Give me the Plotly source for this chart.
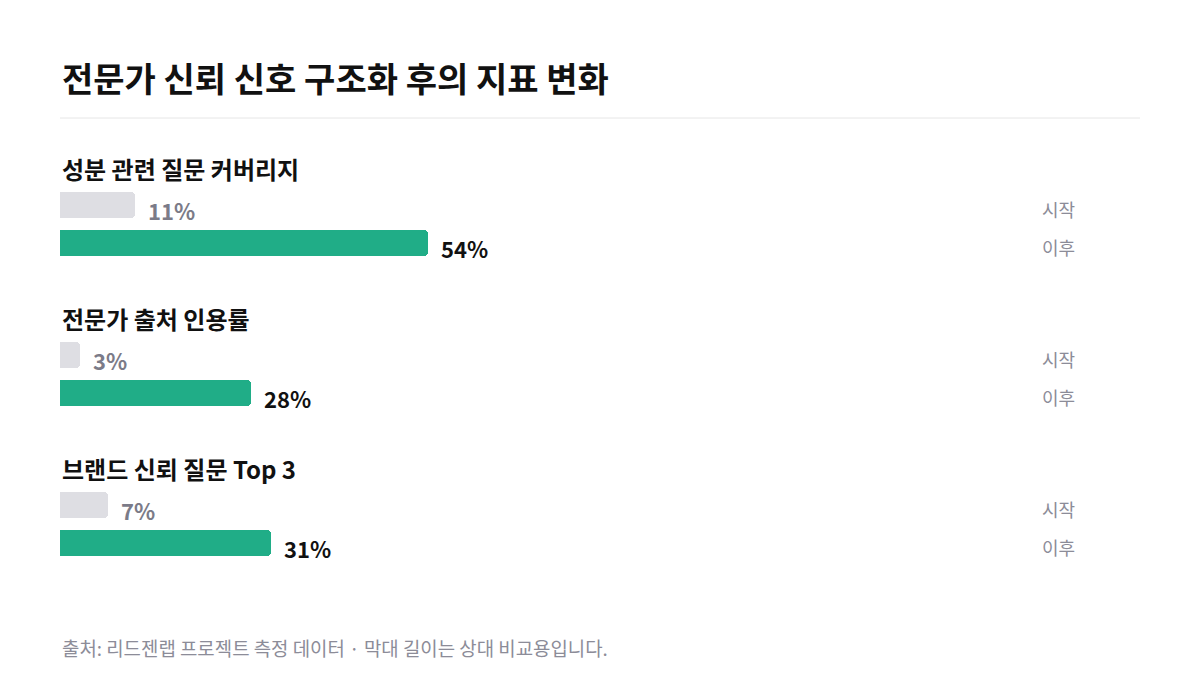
import plotly.graph_objects as go

# ---- data ----
metrics = ["성분 관련 질문 커버리지", "전문가 출처 인용률", "브랜드 신뢰 질문 Top 3"]
before_vals = [11, 3, 7]
after_vals = [54, 28, 31]
phase_labels = ["시작", "이후"]
title_text = "전문가 신뢰 신호 구조화 후의 지표 변화"
footer_text = "출처: 리드젠랩 프로젝트 측정 데이터 · 막대 길이는 상대 비교용입니다."

# ---- style / layout ----
W, H = 1200, 690
OFF = 8  # page body margin compensation
FONT = "Noto Sans CJK KR"
GREEN = "#20AD87"
GREY_BAR = "#DEDEE3"
GREY_TXT = "#7B7B88"
DARK = "#111111"
LEFT_PX = 60
FULL_PX = 741  # pixel where 100% ends
GROUP_TOP = 170      # y of first group (screen pixel units on y axis)
GROUP_STEP = 150
BAR_H = 26


def px(p):
    return (p - OFF) / W


x_dom = [px(LEFT_PX), px(FULL_PX)]

fig = go.Figure()

start_y = [GROUP_TOP + 35 + i * GROUP_STEP for i in range(len(metrics))]
after_y = [GROUP_TOP + 73 + i * GROUP_STEP for i in range(len(metrics))]

fig.add_trace(go.Bar(
    x=before_vals, y=start_y, orientation="h", width=BAR_H,
    marker=dict(color=GREY_BAR, cornerradius=4, line=dict(width=0)),
    hoverinfo="skip", showlegend=False,
))
fig.add_trace(go.Bar(
    x=after_vals, y=after_y, orientation="h", width=BAR_H,
    marker=dict(color=GREEN, cornerradius=4, line=dict(width=0)),
    hoverinfo="skip", showlegend=False,
))

ann = []
ann.append(dict(text=f"<b>{title_text}</b>", x=px(LEFT_PX), xref="paper", xanchor="left",
                y=77, yref="y", yanchor="middle", showarrow=False,
                font=dict(family=FONT, size=34, color=DARK)))
ann.append(dict(text=footer_text, x=px(LEFT_PX), xref="paper", xanchor="left",
                y=647, yref="y", yanchor="middle", showarrow=False,
                font=dict(family=FONT, size=18.9, color="#8C8C98")))

for i, m in enumerate(metrics):
    gy = GROUP_TOP + i * GROUP_STEP
    ann.append(dict(text=f"<b>{m}</b>", x=px(LEFT_PX), xref="paper", xanchor="left",
                    y=gy - 2, yref="y", yanchor="middle", showarrow=False,
                    font=dict(family=FONT, size=24, color=DARK)))
    ann.append(dict(text=f"<b>{before_vals[i]}%</b>", x=before_vals[i], xref="x", xanchor="left",
                    xshift=11, y=start_y[i], yref="y", yanchor="middle", yshift=-5,
                    showarrow=False, font=dict(family=FONT, size=22, color=GREY_TXT)))
    ann.append(dict(text=f"<b>{after_vals[i]}%</b>", x=after_vals[i], xref="x", xanchor="left",
                    xshift=11, y=after_y[i], yref="y", yanchor="middle", yshift=-5,
                    showarrow=False, font=dict(family=FONT, size=22, color=DARK)))
    for lbl, yy in zip(phase_labels, [start_y[i], after_y[i]]):
        ann.append(dict(text=lbl, x=px(1040), xref="paper", xanchor="left",
                        y=yy, yref="y", yanchor="middle", yshift=-4, showarrow=False,
                        font=dict(family=FONT, size=18, color="#8C8C98")))

fig.update_layout(
    width=W, height=H,
    margin=dict(l=0, r=0, t=0, b=0),
    paper_bgcolor="white", plot_bgcolor="white",
    xaxis=dict(domain=x_dom, range=[0, 100], visible=False, fixedrange=True),
    yaxis=dict(domain=[0, 1], range=[H + OFF, OFF], visible=False, fixedrange=True),
    annotations=ann,
    shapes=[dict(type="line", xref="paper", yref="y", x0=px(LEFT_PX), x1=px(1140),
                 y0=118, y1=118, line=dict(color="#E6E6E6", width=1))],
    bargap=0,
)

fig.write_html("out.html")
